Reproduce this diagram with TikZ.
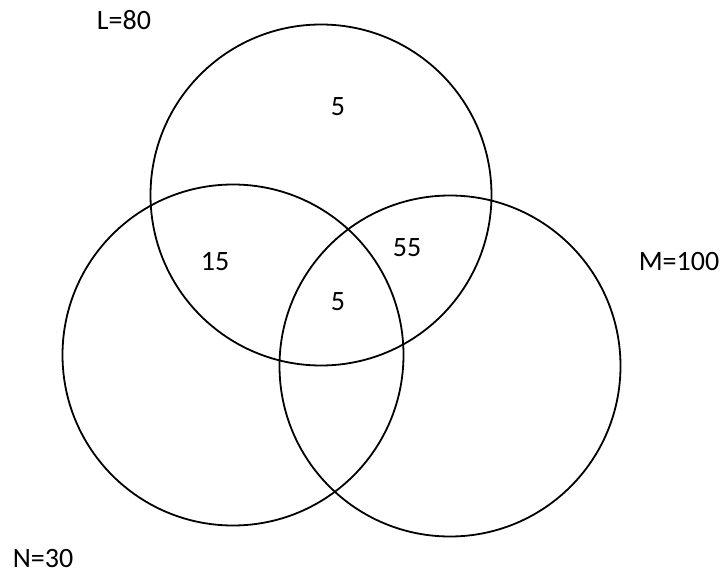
\documentclass[tikz,border=0pt]{standalone}
\usepackage{fontspec}
\setmainfont{Carlito}
\tikzset{
  venn/.style={draw=black, line width=1.8pt, circle, minimum size=341pt, inner sep=0pt},
  lbl/.style={font=\fontsize{28}{32}\selectfont, inner sep=0pt, anchor=center}
}
\begin{document}
\begin{tikzpicture}[x=1pt,y=-1pt]
\useasboundingbox (0,0) rectangle (725,575);
\node[venn] (L) at (321,195) {};
\node[venn] (N) at (233,355) {};
\node[venn] (M) at (450,366) {};
\node[lbl] (tL) at (124,20) {L=80};
\node[lbl] (tM) at (679,262) {M=100};
\node[lbl] (tN) at (43,559) {N=30};
\node[lbl] (a) at (338,107) {5};
\node[lbl] (b) at (215,262) {15};
\node[lbl] (c) at (407,248) {55};
\node[lbl] (d) at (338,302) {5};
\end{tikzpicture}
\end{document}
